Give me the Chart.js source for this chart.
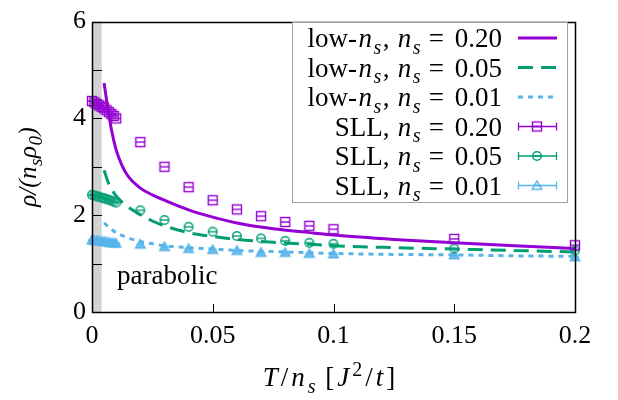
<!DOCTYPE html>
<html>
<head>
<meta charset="utf-8">
<script src="https://cdn.jsdelivr.net/npm/chart.js@4"></script>
<style>
  html, body { margin: 0; padding: 0; background: #fff; }
</style>
</head>
<body>
<canvas id="chart" width="618" height="400"></canvas>
<script>
// --- data ---
const sllX   = [0, 0.001, 0.002, 0.003, 0.004, 0.005, 0.006, 0.007, 0.008, 0.009, 0.01, 0.02, 0.03, 0.04, 0.05, 0.06, 0.07, 0.08, 0.09, 0.1, 0.15, 0.2];
const sll020 = [4.36, 4.33, 4.30, 4.27, 4.24, 4.21, 4.17, 4.13, 4.09, 4.05, 4.00, 3.51, 3.00, 2.58, 2.31, 2.12, 1.98, 1.86, 1.78, 1.71, 1.51, 1.38];
const sll005 = [2.42, 2.41, 2.39, 2.38, 2.36, 2.35, 2.33, 2.32, 2.30, 2.28, 2.26, 2.10, 1.90, 1.76, 1.66, 1.57, 1.52, 1.47, 1.43, 1.41, 1.31, 1.27];
const sll001 = [1.49, 1.48, 1.48, 1.47, 1.46, 1.46, 1.45, 1.44, 1.43, 1.43, 1.42, 1.40, 1.35, 1.31, 1.29, 1.27, 1.23, 1.23, 1.21, 1.20, 1.18, 1.14];

const low020X = [0.005, 0.006, 0.007, 0.008, 0.01, 0.0125, 0.015, 0.02, 0.025, 0.03, 0.04, 0.05, 0.06, 0.075, 0.09, 0.1, 0.125, 0.15, 0.175, 0.2];
const low020Y = [4.73, 4.39, 4.08, 3.78, 3.35, 3.02, 2.80, 2.56, 2.42, 2.31, 2.11, 1.96, 1.84, 1.72, 1.64, 1.59, 1.50, 1.43, 1.37, 1.31];
const low005X = [0.005, 0.007, 0.01, 0.015, 0.02, 0.025, 0.03, 0.04, 0.05, 0.06, 0.075, 0.09, 0.1, 0.125, 0.15, 0.175, 0.2];
const low005Y = [2.93, 2.64, 2.40, 2.17, 2.01, 1.88, 1.78, 1.64, 1.56, 1.50, 1.44, 1.40, 1.37, 1.33, 1.30, 1.27, 1.24];
const low001X = [0.005, 0.0075, 0.01, 0.015, 0.02, 0.025, 0.03, 0.04, 0.05, 0.06, 0.075, 0.1, 0.125, 0.15, 0.175, 0.2];
const low001Y = [1.84, 1.73, 1.64, 1.53, 1.46, 1.41, 1.37, 1.33, 1.30, 1.27, 1.25, 1.21, 1.19, 1.18, 1.16, 1.15];

const xTickLabels = ['0', '0.05', '0.1', '0.15', '0.2'];
const yTickLabels = ['0', '', '2', '', '4', '', '6'];
const parabolicMax = 0.004;   // grey band edge

const PURPLE = '#9400d3', GREEN = '#009e73', BLUE = '#56b4e9';
const FONT = '"Liberation Serif", "DejaVu Serif", serif';
const FS = 27;

// text runs: [text, style]  style: '' | 'i' | 'is' (italic sub) | 'sub' | 'sup'
const NS = [['n', 'i'], ['s', 'is']];
const legendRows = [
  { runs: [['low-', ''], ...NS, [',', ''], ...NS, ['= 0.20', '']], color: PURPLE, kind: 'line', dash: [] },
  { runs: [['low-', ''], ...NS, [',', ''], ...NS, ['= 0.05', '']], color: GREEN, kind: 'line', dash: [15, 8] },
  { runs: [['low-', ''], ...NS, [',', ''], ...NS, ['= 0.01', '']], color: BLUE, kind: 'line', dash: [5, 5] },
  { runs: [['SLL,', ''], ...NS, ['= 0.20', '']], color: PURPLE, kind: 'square' },
  { runs: [['SLL,', ''], ...NS, ['= 0.05', '']], color: GREEN, kind: 'circle' },
  { runs: [['SLL,', ''], ...NS, ['= 0.01', '']], color: BLUE, kind: 'triOpen' }
];
const yTitle = [['ρ/(', 'i'], ['n', 'i'], ['s', 'is'], ['ρ', 'i'], ['0', 'is'], [')', 'i']];
const xTitle = [['T', 'i'], ['/', ''], ['n', 'i'], ['s', 'is'], ['[', ''], ['J', 'i'], ['2', 'sup'], ['/', ''], ['t', 'i'], [']', '']];

function runFont(style, size) {
  const small = (style === 'is' || style === 'sub' || style === 'sup');
  const it = (style === 'i' || style === 'is');
  return (it ? 'italic ' : '') + Math.round(small ? size * 0.75 : size) + 'px ' + FONT;
}
// draws runs; 'gap' gives the extra space gnuplot puts between text fragments,
// and a run that follows ',' or precedes '=' / '[' gets a word space.
function drawRuns(ctx, runs, x, y, align, size, gap) {
  ctx.font = runFont('', size);
  const sp = ctx.measureText(' ').width;
  const lead = runs.map(([t], k) => {
    if (k === 0) return 0;
    const prev = runs[k - 1][0];
    return gap + ((prev.endsWith(',') || t.startsWith('=') || t.startsWith('[')) ? sp : 0);
  });
  let total = 0;
  const widths = runs.map(([t, s], k) => { ctx.font = runFont(s, size); const w = ctx.measureText(t).width; total += w + lead[k]; return w; });
  let cx = align === 'right' ? x - total : align === 'center' ? x - total / 2 : x;
  ctx.textAlign = 'left';
  ctx.textBaseline = 'alphabetic';
  runs.forEach(([t, s], k) => {
    cx += lead[k];
    ctx.font = runFont(s, size);
    let dy = 0;
    if (s === 'is' || s === 'sub') dy = size * 0.25;
    if (s === 'sup') dy = -size * 0.38;
    ctx.fillText(t.replace('= ', '=\u2009\u2009'), cx, y + dy);
    cx += widths[k];
  });
}

function marker(kind, color) {
  const c = document.createElement('canvas');
  c.width = c.height = 14;
  const g = c.getContext('2d');
  g.strokeStyle = color; g.fillStyle = color; g.lineWidth = 1.4;
  if (kind === 'square') {
    g.strokeRect(2.5, 2.5, 9, 9);
  } else if (kind === 'circle') {
    g.beginPath(); g.arc(7, 7, 4.3, 0, Math.PI * 2); g.stroke();
  } else {
    g.beginPath(); g.moveTo(7, 2.5); g.lineTo(11.8, 10.8); g.lineTo(2.2, 10.8); g.closePath();
    if (kind === 'tri') { g.globalAlpha = 0.85; g.fill(); g.globalAlpha = 1; }
    g.stroke();
  }
  g.beginPath(); g.moveTo(3, 7); g.lineTo(11, 7); g.stroke();
  return c;
}
const mkSquare = marker('square', PURPLE);
const mkCircle = marker('circle', GREEN);
const mkTri = marker('tri', BLUE);
const legendMarkers = { square: mkSquare, circle: mkCircle, triOpen: marker('triOpen', BLUE) };

const pts = (xs, ys) => xs.map((x, k) => ({ x: x, y: ys[k] }));

const lineSet = (label, xs, ys, color, dash) => ({
  label, data: pts(xs, ys), borderColor: color, backgroundColor: color,
  borderWidth: 3, borderDash: dash, pointRadius: 0, showLine: true,
  cubicInterpolationMode: 'monotone', order: 1
});
const sllSet = (label, ys, img) => ({
  label, data: pts(sllX, ys), showLine: false, pointStyle: img,
  pointRadius: 5, clip: false, order: 0
});

const frame = {
  id: 'frame',
  beforeDatasetsDraw(chart) {
    const { ctx, chartArea: a, scales: { x } } = chart;
    ctx.save();
    ctx.fillStyle = '#d3d3d3';
    ctx.fillRect(x.getPixelForValue(0), a.top, x.getPixelForValue(parabolicMax) - x.getPixelForValue(0), a.bottom - a.top);
    ctx.restore();
  },
  afterDraw(chart) {
    const { ctx, chartArea: a, scales: { x, y } } = chart;
    ctx.save();
    ctx.strokeStyle = '#000'; ctx.lineWidth = 1;
    ctx.beginPath();
    x.ticks.forEach(t => { const px = Math.round(x.getPixelForValue(t.value)) + 0.5; ctx.moveTo(px, a.bottom); ctx.lineTo(px, a.bottom - 8); });
    y.ticks.forEach(t => { const py = Math.round(y.getPixelForValue(t.value)) + 0.5; ctx.moveTo(a.left, py); ctx.lineTo(a.left + 10, py); });
    ctx.stroke();
    ctx.lineWidth = 1.5;
    ctx.strokeRect(Math.round(a.left) + 0.5, Math.round(a.top) + 0.5, Math.round(a.right - a.left), Math.round(a.bottom - a.top));

    // legend box
    ctx.fillStyle = '#fff';
    ctx.fillRect(292, 22, 276, 181);
    ctx.strokeStyle = '#a0a0a0'; ctx.lineWidth = 1;
    ctx.strokeRect(292.5, 22.5, 275, 180);
    legendRows.forEach((r, k) => {
      const cy = 38 + k * 29.5;
      ctx.fillStyle = '#000';
      drawRuns(ctx, r.runs, 498, cy + 9, 'right', FS, 1.5);
      ctx.strokeStyle = r.color;
      if (r.kind === 'line') {
        ctx.lineWidth = 3; ctx.setLineDash(r.dash);
        ctx.beginPath(); ctx.moveTo(518, cy); ctx.lineTo(557, cy); ctx.stroke();
        ctx.setLineDash([]);
      } else {
        ctx.lineWidth = 1.3;
        ctx.beginPath();
        ctx.moveTo(518, cy); ctx.lineTo(557, cy);
        ctx.moveTo(518.5, cy - 4); ctx.lineTo(518.5, cy + 4);
        ctx.moveTo(556.5, cy - 4); ctx.lineTo(556.5, cy + 4);
        ctx.stroke();
        ctx.drawImage(legendMarkers[r.kind], 537 - 7, cy - 7);
      }
    });

    // axis titles and annotation
    ctx.fillStyle = '#000';
    drawRuns(ctx, xTitle, 329, 386, 'center', FS, 3);
    ctx.save();
    ctx.translate(36, 167);
    ctx.rotate(-Math.PI / 2);
    drawRuns(ctx, yTitle, 0, 0, 'center', 25, 0.5);
    ctx.restore();
    ctx.font = FS + 'px ' + FONT;
    ctx.textAlign = 'left';
    ctx.fillText('parabolic', 117, 284);
    ctx.restore();
  }
};

new Chart(document.getElementById('chart'), {
  type: 'scatter',
  data: {
    datasets: [
      lineSet('low-n_s, n_s = 0.20', low020X, low020Y, PURPLE, []),
      lineSet('low-n_s, n_s = 0.05', low005X, low005Y, GREEN, [15, 8]),
      lineSet('low-n_s, n_s = 0.01', low001X, low001Y, BLUE, [5, 5]),
      sllSet('SLL, n_s = 0.20', sll020, mkSquare),
      sllSet('SLL, n_s = 0.05', sll005, mkCircle),
      sllSet('SLL, n_s = 0.01', sll001, mkTri)
    ]
  },
  options: {
    responsive: false,
    animation: false,
    devicePixelRatio: 1,
    layout: { padding: { top: 17, right: 43, left: 0, bottom: 0 } },
    plugins: { legend: { display: false }, tooltip: { enabled: false } },
    scales: {
      x: {
        type: 'linear', min: 0, max: 0.2,
        afterFit: s => { s.height = 88; },
        grid: { display: false, drawTicks: false },
        border: { display: false },
        ticks: {
          stepSize: 0.05, padding: 9, color: '#000', maxRotation: 0,
          font: { family: FONT, size: 26 },
          callback: (v, i) => xTickLabels[i]
        }
      },
      y: {
        type: 'linear', min: 0, max: 6,
        afterFit: s => { s.width = 92; },
        grid: { display: false, drawTicks: false },
        border: { display: false },
        ticks: {
          stepSize: 1, padding: 6, color: '#000',
          font: { family: FONT, size: 26 },
          callback: (v, i) => yTickLabels[i]
        }
      }
    }
  },
  plugins: [frame]
});
</script>
</body>
</html>
